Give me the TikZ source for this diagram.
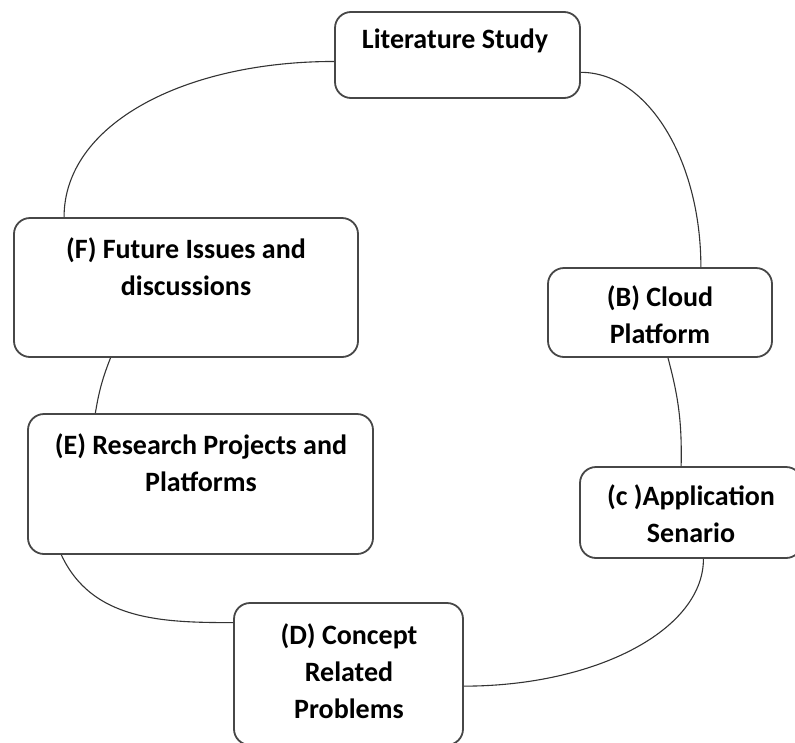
\documentclass[tikz,border=0pt]{standalone}
\usepackage{fontspec}
\setmainfont{Carlito}
\usetikzlibrary{positioning}
\definecolor{Frame}{HTML}{474747}
\definecolor{Wire}{HTML}{333333}
\tikzset{stage/.style={rounded corners=16pt,draw=Frame,line width=1.8pt,fill=white,inner sep=0pt},tag/.style={align=center,inner sep=0pt,font=\fontsize{28}{37}\selectfont\bfseries},link/.style={draw=Wire,line width=1.1pt}}

\begin{document}
\begin{tikzpicture}[x=1pt,y=-1pt]
        \clip (0,0) rectangle (795,742);
        \node[stage,minimum width=245pt,minimum height=86pt] (lit) at (457.5,55){};
        \node[stage,minimum width=344pt,minimum height=139pt] (fut) at (186,287.5){};
        \node[stage,minimum width=224pt,minimum height=89pt] (cld) at (660,312.5){};
        \node[stage,minimum width=345pt,minimum height=140pt] (res) at (200.5,484){};
        \node[stage,minimum width=222pt,minimum height=91pt] (app) at (691,512.5){};
        \node[stage,minimum width=229pt,minimum height=142pt] (con) at (348.5,674){};
        \node[tag] (litT) at (455,41){Literature Study};
        \node[tag] (futT) at (186,266.5){(F) Future Issues and\\discussions};
        \node[tag] (cldT) at (660,314.5){(B) Cloud\\Platform};
        \node[tag] (resT) at (201,463){(E) Research Projects and\\Platforms};
        \node[tag] (appT) at (691,513.5){(c )Application\\Senario};
        \node[tag] (conT) at (349,671.5){(D) Concept\\Related\\Problems};
        \draw[link] (lit.-177) .. controls +(-150,0) and +(0,-93) .. (fut.150);
        \draw[link] (lit.-8) .. controls +(66,0) and +(0,-108) .. (cld.48);
        \draw[link] (cld.-80) to[bend left=8] (app.102);
        \draw[link] (app.-75) .. controls +(0,71) and +(132,0) .. (con.-6);
        \draw[link] (res.-153) to[out=-65,in=180] (con.156);
        \draw[link] (fut.-137) to[bend right=6] (res.146);
      \end{tikzpicture}
\end{document}
